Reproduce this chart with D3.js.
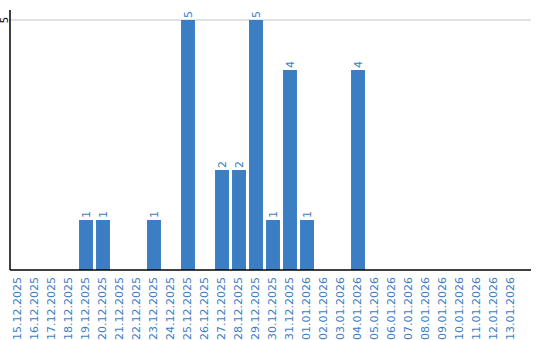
<!DOCTYPE html>
<html>
<head>
<meta charset="utf-8">
<script src="https://cdnjs.cloudflare.com/ajax/libs/d3/7.8.5/d3.min.js"></script>
<style>
  body { margin: 0; background: #fff; }
  svg { display: block; font-family: "DejaVu Sans", Verdana, sans-serif; }
</style>
</head>
<body>
<div id="chart"></div>
<script>
// dates shown on the x axis
var dates = ["15.12.2025", "16.12.2025", "17.12.2025", "18.12.2025", "19.12.2025",
  "20.12.2025", "21.12.2025", "22.12.2025", "23.12.2025", "24.12.2025",
  "25.12.2025", "26.12.2025", "27.12.2025", "28.12.2025", "29.12.2025",
  "30.12.2025", "31.12.2025", "01.01.2026", "02.01.2026", "03.01.2026",
  "04.01.2026", "05.01.2026", "06.01.2026", "07.01.2026", "08.01.2026",
  "09.01.2026", "10.01.2026", "11.01.2026", "12.01.2026", "13.01.2026"];

// count per day
var counts = [0, 0, 0, 0, 1, 1, 0, 0, 1, 0, 5, 0, 2, 2, 5, 1, 4, 1, 0, 0, 4, 0, 0, 0, 0, 0, 0, 0, 0, 0];

// y ticks
var yTicks = [5];

var blue = "#3b7ec4";

// sizes
var width = 540, height = 340;
var margin = {top: 10, left: 10, right: 9, bottom: 70};
var plotBottom = height - margin.bottom;

var svg = d3.select("#chart")
  .append("svg")
    .attr("width", width)
    .attr("height", height);

// x scale for the days
var x = d3.scaleBand()
  .domain(dates)
  .range([9.5, 519.5])
  .paddingInner(0.18)
  .paddingOuter(0.09);

// y scale for the counts
var y = d3.scaleLinear()
  .domain([0, 5])
  .range([plotBottom, 20]);

// grid line
svg.selectAll(".grid")
  .data(yTicks)
  .enter().append("line")
    .attr("class", "grid")
    .attr("x1", margin.left)
    .attr("x2", width - margin.right)
    .attr("y1", function(d) { return y(d); })
    .attr("y2", function(d) { return y(d); })
    .attr("stroke", "#c4c4c4")
    .attr("stroke-width", 1);

// bars, only days with a count
svg.selectAll(".bar")
  .data(counts)
  .enter().append("rect")
    .attr("class", "bar")
    .attr("x", function(d, i) { return x(dates[i]); })
    .attr("y", function(d) { return y(d); })
    .attr("width", x.bandwidth())
    .attr("height", function(d) { return plotBottom - y(d); })
    .style("fill", blue)
    .style("display", function(d) { return d > 0 ? null : "none"; });

// value labels above the bars
svg.selectAll(".val")
  .data(counts)
  .enter().append("text")
    .attr("class", "val")
    .attr("transform", function(d, i) {
      return "translate(" + (x(dates[i]) + x.bandwidth() / 2 + 4) + "," + (y(d) - 2) + ") rotate(-90)";
    })
    .style("font-size", "11px")
    .style("fill", blue)
    .style("display", function(d) { return d > 0 ? null : "none"; })
    .text(function(d) { return d; });

// x axis with rotated dates
var xAxis = d3.axisBottom(x).tickSize(0).tickSizeOuter(0);
var gx = svg.append("g")
  .attr("transform", "translate(0," + plotBottom + ")")
  .call(xAxis);
gx.select(".domain").remove();
gx.selectAll("text")
  .attr("transform", "rotate(-90)")
  .attr("x", -7)
  .attr("y", -1)
  .attr("dy", "0.35em")
  .style("text-anchor", "end")
  .style("font-size", "11px")
  .style("font-family", "DejaVu Sans")
  .style("fill", blue);

// axis lines
svg.append("line")
  .attr("x1", margin.left).attr("x2", width - margin.right)
  .attr("y1", plotBottom).attr("y2", plotBottom)
  .attr("stroke", "#000").attr("stroke-width", 1.5);

svg.append("line")
  .attr("x1", margin.left).attr("x2", margin.left)
  .attr("y1", margin.top).attr("y2", plotBottom)
  .attr("stroke", "#000").attr("stroke-width", 1.5);

// y tick label
svg.selectAll(".ylab")
  .data(yTicks)
  .enter().append("text")
    .attr("class", "ylab")
    .attr("transform", function(d) { return "translate(8," + y(d) + ") rotate(-90)"; })
    .style("text-anchor", "middle")
    .style("font-size", "10px")
    .style("fill", "#000")
    .text(function(d) { return d; });
</script>
</body>
</html>
